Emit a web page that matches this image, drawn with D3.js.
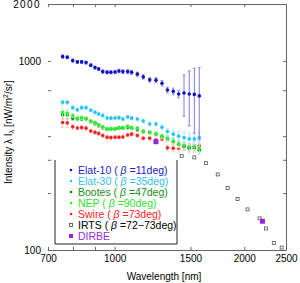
<!DOCTYPE html>
<html lang="en">
<head>
    <meta charset="UTF-8">
    <title>Intensity vs wavelength</title>
    <script src="https://d3js.org/d3.v7.min.js"></script>
    <style>
        body { margin: 0; background: #fff; }
        text { font-family: "Liberation Sans", Arial, sans-serif; }
    </style>
</head>
<body>
    <script>
        // wavelength grid shared by the five fields [nm]
        var wl = [757, 776, 799, 819, 838, 858, 880, 900, 918, 938, 960, 980, 1002, 1023, 1045,
                  1072, 1095, 1129, 1165, 1206, 1247, 1288, 1326, 1368, 1408, 1449, 1490, 1531, 1572];

        var elat10 = [1054, 1046, 1004, 988, 988, 980, 949, 922, 907, 878, 871, 871, 874, 885, 878,
                      878, 871, 851, 823, 794, 791, 762, 702, 690, 669, 677, 669, 665, 653];
        var elat10_err = [22, 20, 20, 18, 18, 18, 18, 18, 18, 18, 18, 18, 18, 20, 20,
                          22, 22, 22, 22, 22, 25, 25, 25, 28, 30, 167, 216, 250, 270];

        var elat30 = [604, 604, 566, 551, 566, 566, 548, 535, 524, 514, 499, 498, 499, 501, 493,
                      505, 498, 493, 481, 464, 464, 446, 423, 410, 400, 393, 387, 387, 393];
        var elat30_err = [14, 14, 13, 12, 12, 12, 11, 11, 11, 11, 11, 11, 11, 11, 11,
                          11, 11, 11, 11, 12, 12, 14, 16, 20, 24, 28, 28, 28, 28];

        var bootes = [518, 518, 497, 493, 493, 493, 478, 466, 455, 444, 435, 437, 437, 441, 441,
                      444, 441, 433, 422, 419, 411, 398, 387, 374, 362, 352, 345, 345, 337];
        var nep = [533, 529, 514, 497, 501, 497, 481, 472, 459, 448, 437, 437, 437, 444, 444,
                   451, 444, 441, 426, 419, 410, 400, 390, 377, 365, 359, 352, 356, 345];
        var swire = [472, 470, 448, 442, 444, 441, 426, 419, 413, 403, 395, 393, 395, 395, 396,
                     406, 410, 403, 390, 390, 382, 387, 347, 345, 345, 356, 349, 354, 357];
        var small_err = [28, 26, 13, 11, 11, 11, 10, 10, 10, 9, 9, 9, 9, 9, 9,
                         9, 9, 9, 9, 10, 10, 11, 13, 15, 16, 16, 16, 16, 16];

        var irts_wl = [1431, 1531, 1630, 1735, 1830, 1929, 2035, 2171, 2246, 2342, 2443];
        var irts = [315, 309, 288, 251, 213, 186, 164, 147, 130, 109, 103];

        var dirbe_wl = [1247, 2204];
        var dirbe = [374, 142];

        var x_ticks = [700, 800, 900, 1000, 1500, 2000, 2500];
        var x_labels = [700, 1000, 1500, 2000, 2500];
        var y_ticks = [100, 200, 300, 400, 700, 1000, 2000];
        var y_labels = [100, 1000, 2000];

        var legend_names = ["Elat-10", "Elat-30", "Bootes", "NEP", "Swire"];
        var legend_betas = ["11", "35", "47", "90", "73"];

        var width = 300, height = 283;
        var svg = d3.select('body').append('svg')
            .attr('width', width)
            .attr('height', height);

        var x = d3.scaleLog().domain([700, 2500]).range([48, 286]);
        var y = d3.scaleLog().domain([100, 2000]).range([250, 4]);

        // axes, ticks pointing inwards
        function fmt(list) {
            return function (d) { return list.indexOf(d) >= 0 ? d : ''; };
        }
        svg.append('g').attr('transform', 'translate(0,250)')
            .call(d3.axisBottom(x).tickValues(x_ticks).tickFormat(fmt(x_labels))
                .tickSizeInner(-3).tickSizeOuter(0).tickPadding(5));
        svg.append('g').attr('transform', 'translate(0,4)')
            .call(d3.axisTop(x).tickValues(x_ticks).tickFormat('')
                .tickSizeInner(-3).tickSizeOuter(0));
        var gl = svg.append('g').attr('transform', 'translate(48,0)')
            .call(d3.axisLeft(y).tickValues(y_ticks).tickFormat(fmt(y_labels))
                .tickSizeInner(-3).tickSizeOuter(0).tickPadding(7));
        svg.append('g').attr('transform', 'translate(286,0)')
            .call(d3.axisRight(y).tickValues(y_ticks).tickFormat('')
                .tickSizeInner(-3).tickSizeOuter(0));
        gl.select('.domain').remove();
        svg.selectAll('.domain').attr('stroke', '#666');
        svg.selectAll('.tick line').attr('stroke', '#666');
        svg.selectAll('.tick text').attr('font-size', 10).attr('fill', '#000')
            .style('font-family', '"Liberation Sans", Arial, sans-serif');
        gl.selectAll('.tick text').filter(function (d) { return d === 2000; })
            .attr('letter-spacing', 1.4);

        // data series with error bars
        function draw_series(xs, vals, errs, color, err_color) {
            var g = svg.append('g');
            var pts = xs.map(function (d, i) { return {w: d, v: vals[i], e: errs[i]}; });
            g.selectAll('line.eb').data(pts).enter().append('line')
                .attr('x1', function (d) { return x(d.w); })
                .attr('x2', function (d) { return x(d.w); })
                .attr('y1', function (d) { return y(d.v + d.e); })
                .attr('y2', function (d) { return y(d.v - d.e); })
                .attr('stroke', err_color).attr('stroke-width', 1);
            g.selectAll('path.cap').data(pts).enter().append('path')
                .attr('d', function (d) {
                    var cx = x(d.w), t = y(d.v + d.e), b = y(d.v - d.e);
                    return 'M' + (cx - 1.5) + ',' + t + 'H' + (cx + 1.5) +
                           'M' + (cx - 1.5) + ',' + b + 'H' + (cx + 1.5);
                })
                .attr('stroke', err_color).attr('fill', 'none').attr('stroke-width', 0.8);
            g.selectAll('circle').data(pts).enter().append('circle')
                .attr('cx', function (d) { return x(d.w); })
                .attr('cy', function (d) { return y(d.v); })
                .attr('r', 1.8)
                .attr('fill', color);
        }

        draw_series(wl, swire, small_err, '#ff2020', '#ffc0c0');
        draw_series(wl, bootes, small_err, '#108a10', '#b0d8b0');
        draw_series(wl, nep, small_err, '#30ee30', '#c0f4c0');
        draw_series(wl, elat30, elat30_err, '#22c4f4', '#a8e4fa');
        draw_series(wl, elat10, elat10_err, '#1010c8', '#7c7ce0');

        // IRTS open squares
        svg.append('g').selectAll('rect').data(irts_wl).enter().append('rect')
            .attr('x', function (d) { return x(d) - 1.5; })
            .attr('y', function (d, i) { return y(irts[i]) - 1.5; })
            .attr('width', 3).attr('height', 3)
            .attr('fill', 'none').attr('stroke', '#555').attr('stroke-width', 0.8);

        // DIRBE filled squares
        svg.append('g').selectAll('rect').data(dirbe_wl).enter().append('rect')
            .attr('x', function (d) { return x(d) - 2.5; })
            .attr('y', function (d, i) { return y(dirbe[i]) - 2.5; })
            .attr('width', 5).attr('height', 5)
            .attr('fill', '#9a24d8');

        // legend
        var lg = svg.append('g');
        lg.append('rect').attr('x', 55).attr('y', 160).attr('width', 122).attr('height', 84)
            .attr('fill', '#fff');
        lg.append('path').attr('d', 'M55,160V244H177V160')
            .attr('fill', 'none').attr('stroke', '#222').attr('stroke-width', 1);

        var leg_colors = ['#1010c8', '#22c4f4', '#108a10', '#30ee30', '#ff2020'];
        var text_colors = ['#2020c8', '#30c0f0', '#1a8a1a', '#30e030', '#ff2020'];
        legend_names.forEach(function (name, i) {
            var cy = 170 + i * 11;
            lg.append('circle').attr('cx', 71).attr('cy', cy).attr('r', 1.3).attr('fill', leg_colors[i]);
            var t = lg.append('text').attr('x', 78).attr('y', cy + 3.8)
                .attr('font-size', 10.5).attr('fill', text_colors[i]);
            t.append('tspan').text(name + ' ( ');
            t.append('tspan').attr('font-style', 'italic').text('β');
            t.append('tspan').text(' =' + legend_betas[i] + 'deg)');
        });
        var cy6 = 170 + 5 * 11;
        lg.append('rect').attr('x', 69.5).attr('y', cy6 - 1.5).attr('width', 3).attr('height', 3)
            .attr('fill', 'none').attr('stroke', '#444').attr('stroke-width', 0.8);
        var t6 = lg.append('text').attr('x', 78).attr('y', cy6 + 3.8).attr('font-size', 10.5).attr('fill', '#000');
        t6.append('tspan').text('IRTS ( ');
        t6.append('tspan').attr('font-style', 'italic').text('β');
        t6.append('tspan').text(' =72\u221273deg)');
        var cy7 = 170 + 6 * 11;
        lg.append('rect').attr('x', 69).attr('y', cy7 - 2).attr('width', 4).attr('height', 4)
            .attr('fill', '#9a24d8');
        lg.append('text').attr('x', 78).attr('y', cy7 + 3.8).attr('font-size', 10.5)
            .attr('fill', '#9a30d0').text('DIRBE');

        // axis titles
        svg.append('text').attr('x', 164).attr('y', 280).attr('text-anchor', 'middle')
            .attr('font-size', 10).text('Wavelength [nm]');
        var yt = svg.append('text').attr('transform', 'translate(12,184) rotate(-90)')
            .attr('text-anchor', 'start').attr('font-size', 10);
        yt.append('tspan').text('Intensity  λ I');
        yt.append('tspan').attr('font-size', 7.5).attr('dy', 2).text('λ');
        yt.append('tspan').attr('dy', -2).text(' [nW/m');
        yt.append('tspan').attr('font-size', 7).attr('dy', -4).text('2');
        yt.append('tspan').attr('dy', 4).text('/sr]');
    </script>
</body>
</html>
